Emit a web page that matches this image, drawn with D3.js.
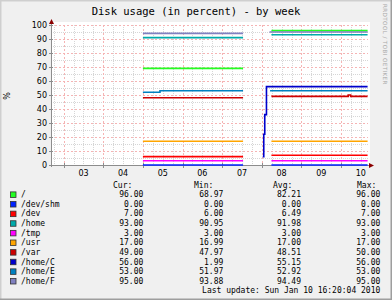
<!DOCTYPE html>
<html>
<head>
<meta charset="utf-8">
<script src="https://cdn.jsdelivr.net/npm/d3@7"></script>
<style>
  body { margin: 0; background: #fff; }
  svg { display: block; }
</style>
</head>
<body>
<svg id="chart" width="392" height="300"></svg>
<script>
// legend / series
const names = ['/', '/dev/shm', '/dev', '/home', '/tmp', '/usr', '/var', '/home/C', '/home/E', '/home/F'];
const colors = ['#22ff22', '#0022ff', '#ff0000', '#00aaaa', '#ff00ff', '#ffa500', '#cc0000', '#0000cc', '#0080c0', '#8080c0'];
const curVals = ['96.00', '0.00', '7.00', '93.00', '3.00', '17.00', '49.00', '56.00', '53.00', '95.00'];
const minVals = ['68.97', '0.00', '6.00', '90.95', '3.00', '16.99', '47.97', '1.99', '51.97', '93.88'];
const avgVals = ['82.21', '0.00', '6.49', '91.98', '3.00', '17.00', '48.51', '55.15', '52.92', '94.49'];
const maxVals = ['96.00', '0.00', '7.00', '93.00', '3.00', '17.00', '50.00', '56.00', '53.00', '95.00'];

// samples [time, percent], null = no data
const rootData = [['2010-01-05 00:00', 69], ['2010-01-07 12:40', 69], null, ['2010-01-08 05:50', 96], ['2010-01-10 16:05', 96]];
const shmData  = [['2010-01-05 00:00', 0], ['2010-01-07 12:40', 0], null, ['2010-01-08 05:50', 0], ['2010-01-10 16:05', 0]];
const devData  = [['2010-01-05 00:00', 6], ['2010-01-07 12:40', 6], null, ['2010-01-08 05:50', 7], ['2010-01-10 16:05', 7]];
const homeData = [['2010-01-05 00:00', 91], ['2010-01-07 12:40', 91], null, ['2010-01-08 05:50', 93], ['2010-01-10 16:05', 93]];
const tmpData  = [['2010-01-05 00:00', 3], ['2010-01-07 12:40', 3], null, ['2010-01-08 05:50', 3], ['2010-01-10 16:05', 3]];
const usrData  = [['2010-01-05 00:00', 17], ['2010-01-07 12:40', 17], null, ['2010-01-08 05:50', 17], ['2010-01-10 16:05', 17]];
const varData  = [['2010-01-05 00:00', 48], ['2010-01-07 12:40', 48], null, ['2010-01-08 05:50', 49], ['2010-01-10 04:20', 50], ['2010-01-10 05:50', 49], ['2010-01-10 16:05', 49]];
const homeCData = [['2010-01-08 00:36', 6], ['2010-01-08 01:12', 22], ['2010-01-08 01:48', 36], ['2010-01-08 02:50', 56], ['2010-01-10 16:05', 56]];
const homeEData = [['2010-01-05 00:00', 52], ['2010-01-05 10:20', 53], ['2010-01-07 12:40', 53], null, ['2010-01-08 05:00', 53], ['2010-01-10 16:05', 53]];
const homeFData = [['2010-01-05 00:00', 94], ['2010-01-07 12:40', 94], null, ['2010-01-08 04:40', 95], ['2010-01-10 16:05', 95]];
const seriesData = [rootData, shmData, devData, homeData, tmpData, usrData, varData, homeCData, homeEData, homeFData];

const yTicks = [0, 10, 20, 30, 40, 50, 60, 70, 80, 90, 100];

const parse = d3.utcParse('%Y-%m-%d %H:%M');
const tStart = parse('2010-01-02 16:20');
const tEnd = parse('2010-01-10 16:20');

const svg = d3.select('#chart');
const W = 392, H = 300;
const pL = 51, pR = 368, pT = 25, pB = 165;

const x = d3.scaleUtc().domain([tStart, tEnd]).range([pL, pR]);
const y = d3.scaleLinear().domain([0, 100]).range([pB, pT]);
const px = v => Math.round(v) + 0.5;

// background + 3d frame
svg.append('rect').attr('width', W).attr('height', H).attr('fill', '#f0f0f0');
svg.append('path').attr('d', `M0.5,${H} V0.5 H${W}`).attr('fill', 'none').attr('stroke', '#cfcfcf').attr('stroke-width', 2);
svg.append('path').attr('d', `M0,${H - 0.5} H${W - 0.5} V0`).attr('fill', 'none').attr('stroke', '#9e9e9e').attr('stroke-width', 2);
svg.append('rect').attr('x', pL).attr('y', pT - 3).attr('width', pR - pL + 2).attr('height', pB - pT + 3).attr('fill', '#fff');

// title
svg.append('text').attr('x', 196).attr('y', 14.5).attr('text-anchor', 'middle')
  .attr('font-family', 'DejaVu Sans Mono').attr('font-size', 10.5).text('Disk usage (in percent) - by week');

// watermark
svg.append('text').attr('transform', 'translate(383,4) rotate(90)')
  .attr('font-family', 'DejaVu Sans').attr('font-size', 5.6).attr('fill', '#a8a8a8')
  .attr('letter-spacing', 0.4).text('RRDTOOL / TOBI OETIKER');

// grid
const grid = svg.append('g').attr('shape-rendering', 'crispEdges');
const minorY = d3.range(5, 100, 10);
grid.selectAll('.hmin').data(minorY).enter().append('line')
  .attr('x1', pL).attr('x2', pR).attr('y1', d => px(y(d))).attr('y2', d => px(y(d)))
  .attr('stroke', '#d6d6d6').attr('stroke-dasharray', '1,1');
const minorX = d3.utcHour.every(6).range(tStart, tEnd).filter(d => d.getUTCHours() !== 0);
grid.selectAll('.vmin').data(minorX).enter().append('line')
  .attr('x1', d => px(x(d))).attr('x2', d => px(x(d))).attr('y1', pT).attr('y2', pB)
  .attr('stroke', '#d6d6d6').attr('stroke-dasharray', '1,1');
grid.selectAll('.hmaj').data(yTicks.slice(1)).enter().append('line')
  .attr('x1', pL).attr('x2', pR).attr('y1', d => px(y(d))).attr('y2', d => px(y(d)))
  .attr('stroke', '#f5b4b4').attr('stroke-dasharray', '2,2');
const days = d3.utcDay.range(tStart, tEnd);
grid.selectAll('.vmaj').data(days).enter().append('line')
  .attr('x1', d => px(x(d))).attr('x2', d => px(x(d))).attr('y1', pT).attr('y2', pB)
  .attr('stroke', '#f5b4b4').attr('stroke-dasharray', '2,2');

// axes
const axes = svg.append('g').attr('shape-rendering', 'crispEdges').attr('stroke', '#8c8c8c');
axes.append('line').attr('x1', pL - 2).attr('x2', pR + 2).attr('y1', pB + 0.5).attr('y2', pB + 0.5);
axes.append('line').attr('x1', pL + 0.5).attr('x2', pL + 0.5).attr('y1', pB + 2).attr('y2', pT - 3);
axes.selectAll('.yt').data(yTicks).enter().append('line')
  .attr('x1', pL - 2).attr('x2', pL + 2).attr('y1', d => px(y(d))).attr('y2', d => px(y(d)));
axes.selectAll('.xt').data(days).enter().append('line')
  .attr('x1', d => px(x(d))).attr('x2', d => px(x(d))).attr('y1', pB - 2).attr('y2', pB + 3);

// series
const line = d3.line()
  .defined(d => d !== null)
  .x(d => x(parse(d[0])))
  .y(d => y(d[1]))
  .curve(d3.curveStepAfter);

svg.append('g').selectAll('path').data(seriesData).enter().append('path')
  .attr('d', d => line(d))
  .attr('fill', 'none')
  .attr('stroke', (d, i) => colors[i])
  .attr('stroke-width', 1.6);

// arrows
svg.append('path').attr('d', `M${pL - 2},${pT - 1} L${pL + 0.5},${pT - 6} L${pL + 3},${pT - 1} Z`).attr('fill', '#8b0000');
svg.append('path').attr('d', `M${pR + 1},${pB - 2} L${pR + 6},${pB + 0.5} L${pR + 1},${pB + 3} Z`).attr('fill', '#8b0000');

// tick labels
svg.append('g').selectAll('text').data(yTicks).enter().append('text')
  .attr('x', 47).attr('y', d => y(d) + 3)
  .attr('text-anchor', 'end').attr('font-family', 'DejaVu Sans').attr('font-size', 8)
  .text(d => d);
const noons = days.map(d => d3.utcHour.offset(d, 12)).filter(d => d < tEnd);
svg.append('g').selectAll('text').data(noons).enter().append('text')
  .attr('x', d => x(d)).attr('y', 175.5)
  .attr('text-anchor', 'middle').attr('font-family', 'DejaVu Sans').attr('font-size', 8)
  .text(d => d3.utcFormat('%d')(d));

svg.append('text').attr('transform', 'translate(10,96) rotate(-90)')
  .attr('text-anchor', 'middle').attr('font-family', 'DejaVu Sans').attr('font-size', 8).text('%');

// legend
const lg = svg.append('g').attr('font-family', 'DejaVu Sans Mono').attr('font-size', 8);
const rowY = i => 194.4 + i * 9.62;
[['Cur:', 113], ['Min:', 194], ['Avg:', 273], ['Max:', 357]].forEach(h => {
  lg.append('text').attr('x', h[1]).attr('y', 187.8).text(h[0]);
});
const rows = lg.selectAll('.row').data(names).enter().append('g');
rows.append('rect')
  .attr('x', 10.5).attr('y', (d, i) => rowY(i) - 2.5).attr('width', 5.5).attr('height', 5.5)
  .attr('fill', (d, i) => colors[i]).attr('stroke', '#333').attr('stroke-width', 0.8);
rows.append('text').attr('x', 21).attr('y', (d, i) => rowY(i) + 2.8).text(d => d);
[[curVals, 143.3], [minVals, 223.3], [avgVals, 301], [maxVals, 380.3]].forEach(c => {
  rows.append('text').attr('x', c[1]).attr('y', (d, i) => rowY(i) + 2.8)
    .attr('text-anchor', 'end').text((d, i) => c[0][i]);
});
lg.append('text').attr('x', 380.3).attr('y', rowY(10) + 2.8).attr('text-anchor', 'end')
  .text('Last update: Sun Jan 10 16:20:04 2010');
</script>
</body>
</html>
